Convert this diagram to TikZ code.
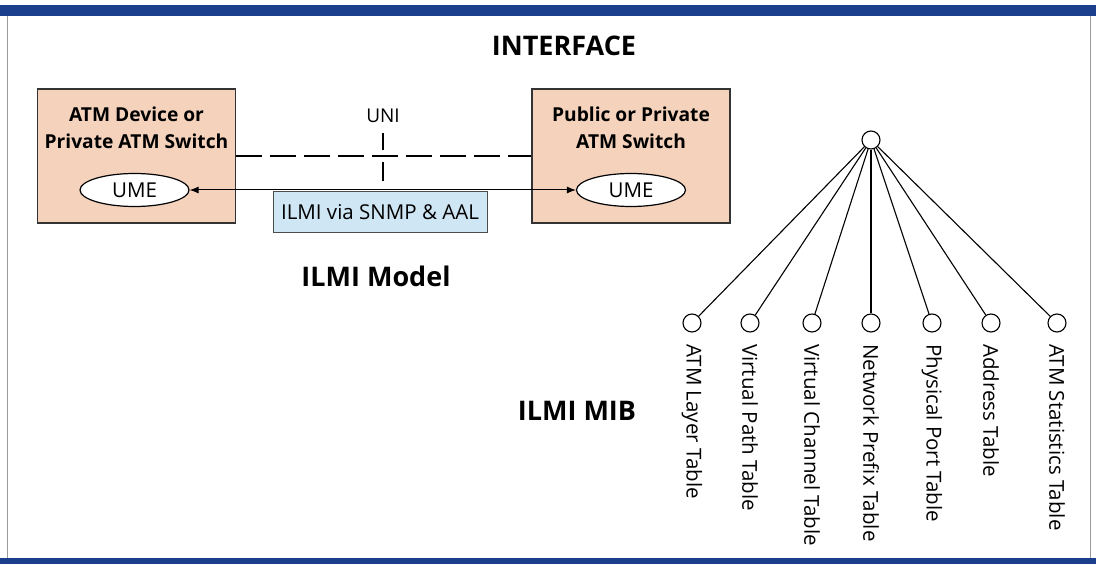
\documentclass[tikz,border=0pt]{standalone}
\usepackage{fontspec}
\setmainfont{Open Sans}
\usetikzlibrary{arrows.meta,shapes.geometric}
\definecolor{barblue}{HTML}{1B3F8C}
\definecolor{peach}{HTML}{F4D2BC}
\definecolor{lightblue}{HTML}{CFE6F4}
\definecolor{frame}{HTML}{9A9A9A}
\begin{document}
\begin{tikzpicture}[x=1pt,y=-1pt,
  devbox/.style={draw=black!80, line width=1.6pt, fill=peach, minimum width=198pt, minimum height=134pt, inner sep=0pt},
  devtitle/.style={font=\fontsize{19.2}{27}\selectfont\bfseries, align=center, inner sep=0pt},
  ume/.style={draw=black, line width=1.2pt, fill=white, ellipse, minimum width=109pt, minimum height=33pt, inner sep=0pt, font=\fontsize{20.5}{22}\selectfont},
  ilmibox/.style={draw=black!70, line width=1pt, fill=lightblue, minimum width=214pt, minimum height=41pt, inner sep=0pt, font=\fontsize{20.5}{22}\selectfont},
  bigtitle/.style={font=\fontsize{27}{30}\selectfont\bfseries, inner sep=0pt},
  plain/.style={font=\fontsize{19}{22}\selectfont, inner sep=0pt},
  leaf/.style={draw=black, line width=1.1pt, fill=white, circle, minimum size=18pt, inner sep=0pt},
  leaflabel/.style={font=\fontsize{20.5}{22}\selectfont, rotate=-90, anchor=west, inner sep=0pt},
  fan/.style={line width=1.1pt},
  link/.style={line width=1pt, {Latex[length=9pt,width=7pt]}-{Latex[length=9pt,width=7pt]}},
  ifline/.style={line width=2pt, dash pattern=on 26pt off 8pt}
]
\useasboundingbox (0,0) rectangle (1096,564);
% frame
\fill[barblue] (0,5) rectangle (1096,16);
\fill[barblue] (0,558) rectangle (1096,564);
\draw[frame, line width=1pt] (7,16) -- (7,558);
\draw[frame, line width=1pt] (1090,16) -- (1090,558);

\node[bigtitle] (interface) at (564,46) {INTERFACE};

% devices
\node[devbox] (ldev) at (136.5,156) {};
\node[devbox] (rdev) at (631,156) {};
\node[devtitle] (ltitle) at (136.5,128) {ATM Device or\\Private ATM Switch};
\node[devtitle] (rtitle) at (631,128) {Public or Private\\ATM Switch};
\node[ume] (lume) at (134.5,190) {UME};
\node[ume] (rume) at (631,190) {UME};

% interface line
\draw[ifline] (ldev.east) -- (rdev.west);
\node[plain] (uni) at (383,116) {UNI};
\coordinate (tickt) at (383,133);
\coordinate (tickb) at (383,181);
\draw[line width=2pt, dash pattern=on 17pt off 12pt on 19pt] (tickt) -- (tickb);

% ILMI link
\node[ilmibox, anchor=north] (ilmi) at (380,191) {ILMI via SNMP \& AAL};
\draw[link] (lume.east) -- (rume.west);

\node[bigtitle] (model) at (376,276) {ILMI Model};
\node[bigtitle] (mib) at (577,411) {ILMI MIB};

% MIB tree
\node[leaf] (root) at (871,140) {};
\foreach \n/\x/\t in {1/692/ATM Layer Table, 2/750/Virtual Path Table, 3/812/Virtual Channel Table, 4/871/Network Prefix Table, 5/932/Physical Port Table, 6/991/Address Table, 7/1057/ATM Statistics Table}{
  \node[leaf] (c\n) at (\x,323) {};
  \node[leaflabel] (t\n) at (\x,344) {\t};
  \draw[fan] (root) -- (c\n);
}
\end{tikzpicture}
\end{document}
